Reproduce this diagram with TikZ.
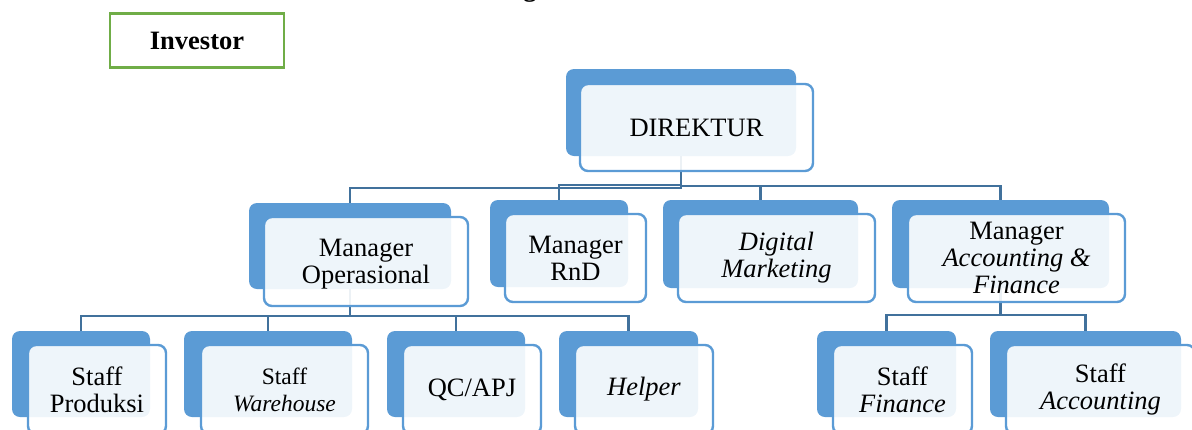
\documentclass[tikz,border=0pt]{standalone}
\usepackage{fontspec}
\setmainfont{Liberation Serif}
\pgfdeclarelayer{background}
\pgfsetlayers{background,main}
\definecolor{accentblue}{HTML}{5B9BD5}
\definecolor{linkblue}{HTML}{41719C}
\definecolor{investgreen}{HTML}{70AD47}
\newcommand\boxfont{\fontsize{26.5}{27}\selectfont}
\newcommand\smallboxfont{\fontsize{23.5}{27}\selectfont}

\begin{document}
\begin{tikzpicture}[x=1pt,y=-1pt,
  backbox/.style={fill=accentblue, rounded corners=8pt, inner sep=0pt, outer sep=0pt},
  frontbox/.style={draw=accentblue, line width=2.4pt, fill=white, fill opacity=0.9,
    text opacity=1, rounded corners=8pt, align=center, inner sep=0pt, font=\boxfont},
  link/.style={draw=linkblue, line width=2.4pt},
  investorbox/.style={draw=investgreen, line width=2.5pt, inner sep=0pt,
    font=\bfseries\boxfont},
]
\useasboundingbox (0,0) rectangle (1192,429);
\clip (0,0) rectangle (1192,429);

% heading (only its lowest part lies on the page)
\node[anchor=base, inner sep=0pt, font=\bfseries\boxfont] (title) at (530,-4) {g};

% investor
\node[investorbox, minimum width=174, minimum height=54] (investor) at (197,40.5) {Investor};

% ---- back plates ----
\node[backbox, minimum width=230, minimum height=87] (dirB)  at (681,112.5) {};
\node[backbox, minimum width=202, minimum height=86] (opB)   at (350,246) {};
\node[backbox, minimum width=138, minimum height=87] (rndB)  at (559,243.5) {};
\node[backbox, minimum width=195, minimum height=88] (digB)  at (760.5,244) {};
\node[backbox, minimum width=217, minimum height=88] (accB)  at (1000.5,244) {};
\node[backbox, minimum width=138, minimum height=86] (prodB) at (81,374) {};
\node[backbox, minimum width=168, minimum height=86] (wareB) at (268,374) {};
\node[backbox, minimum width=138, minimum height=86] (qcB)   at (456,374) {};
\node[backbox, minimum width=139, minimum height=86] (helpB) at (628.5,374) {};
\node[backbox, minimum width=139, minimum height=86] (finB)  at (886.5,374) {};
\node[backbox, minimum width=191, minimum height=86] (actB)  at (1085.5,374) {};

% ---- front cards ----
\node[frontbox, minimum width=233, minimum height=87] (dir)  at (696.5,127.5) {DIREKTUR};
\node[frontbox, minimum width=204, minimum height=89] (op)   at (366,261.5) {\\[-4pt]Manager\\Operasional};
\node[frontbox, minimum width=141, minimum height=88] (rnd)  at (575.5,258) {Manager\\RnD};
\node[frontbox, minimum width=197, minimum height=88] (dig)  at (776.5,258) {\textit{Digital}\\\textit{Marketing}};
\node[frontbox, minimum width=217, minimum height=88] (acc)  at (1016.5,258) {Manager\\\textit{Accounting \&}\\\textit{Finance}};
\node[frontbox, minimum width=138, minimum height=89] (prod) at (97,389.5) {Staff\\Produksi};
\node[frontbox, minimum width=167, minimum height=89, font=\smallboxfont] (ware) at (284.5,389.5) {Staff\\\textit{Warehouse}};
\node[frontbox, minimum width=138, minimum height=89] (qc)   at (472,389.5) {QC/APJ};
\node[frontbox, minimum width=138, minimum height=89] (help) at (644,389.5) {\textit{Helper}};
\node[frontbox, minimum width=139, minimum height=89] (fin)  at (902.5,389.5) {Staff\\\textit{Finance}};
\node[frontbox, minimum width=189, minimum height=89] (act)  at (1100.5,389.5) {Staff\\\textit{Accounting}};

% ---- connectors ----
\begin{pgfonlayer}{background}
  \draw[link] (dirB.south) -- ++(0,32) -| (opB.north);
  \draw[link] (dirB.south) -- ++(0,29) -| (rndB.north);
  \draw[link] (dirB.south) -- ++(0,30) -| (digB.north);
  \draw[link] (dirB.south) -- ++(0,30) -| (accB.north);
  \draw[link] (opB.south) -- ++(0,27) -| (prodB.north);
  \draw[link] (opB.south) -- ++(0,27) -| (wareB.north);
  \draw[link] (opB.south) -- ++(0,27) -| (qcB.north);
  \draw[link] (opB.south) -- ++(0,27) -| (helpB.north);
  \draw[link] (accB.south) -- ++(0,27) -| (finB.north);
  \draw[link] (accB.south) -- ++(0,27) -| (actB.north);
\end{pgfonlayer}
\end{tikzpicture}
\end{document}
